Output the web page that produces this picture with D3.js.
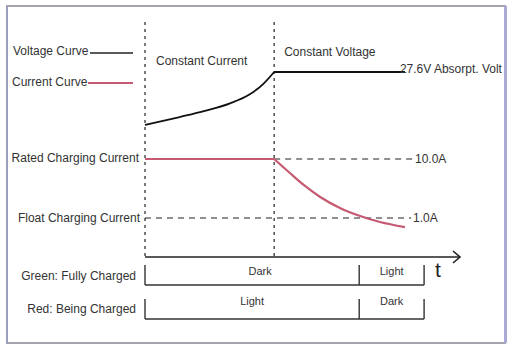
<!DOCTYPE html>
<html><head><meta charset="utf-8">
<script src="https://cdn.jsdelivr.net/npm/d3@7"></script>
<style>
html,body{margin:0;padding:0;background:#fff;}
svg{display:block;}
text{font-family:"Liberation Sans",Arial,sans-serif;}
</style></head>
<body>
<script>
// ---- data ----
const phaseBounds = [0, 41];                 // start of CC, start of CV (time units 0..100)
const phaseLabels = ["Constant Current", "Constant Voltage"];
const voltageT = [0, 11, 19, 27, 33, 37.5, 41, 82.5];
const voltageV = [24.0, 24.54, 24.96, 25.47, 26.05, 26.78, 27.6, 27.6];
const currentT = [0, 41, 46, 50.8, 55.6, 61.9, 68.3, 74.6, 82.5];
const currentA = [10, 10, 5.79, 3.49, 2.27, 1.48, 1.08, 0.855, 0.7];
const refCurrents = [10.0, 1.0];
const refCurrentLabels = ["10.0A", "1.0A"];
const refCurrentNames = ["Rated Charging Current", "Float Charging Current"];
const absorptVoltage = 27.6;
const absorptLabel = "27.6V Absorpt. Volt";
const legendNames = ["Voltage Curve", "Current Curve"];
const ledRows = ["Green: Fully Charged", "Red: Being Charged"];
const ledBreaks = [0, 68, 88.6];
const ledStates = [["Dark", "Light"], ["Light", "Dark"]];

const W = 519, H = 345;
const svg = d3.select("body").append("svg").attr("width", W).attr("height", H);

// frame
svg.append("rect").attr("x",7).attr("y",6).attr("width",498).attr("height",337)
  .attr("fill","#fff").attr("stroke","#a4a4ac").attr("stroke-width",2);
svg.append("line").attr("x1",7).attr("x2",7).attr("y1",6).attr("y2",343).attr("stroke","#9aa0bc").attr("stroke-width",2);
svg.append("line").attr("x1",505.5).attr("x2",505.5).attr("y1",6).attr("y2",343).attr("stroke","#aaaad6").attr("stroke-width",3);

const x = d3.scaleLinear().domain([0,100]).range([145,460]);
const yV = d3.scaleLinear().domain([24.0, 27.6]).range([125, 72]);
const yI = d3.scaleLog().domain([1, 10]).range([218, 159]);
const plotTop = 22, axisY = 257;
const pink = "#c65a72";

// phase dashed vertical lines
phaseBounds.forEach((t,i)=>{
  svg.append("line").attr("x1",x(t)).attr("x2",x(t)).attr("y1",plotTop).attr("y2",axisY)
    .attr("stroke","#333").attr("stroke-width",1.3).attr("stroke-dasharray","3,4");
});
svg.append("text").attr("x",x(phaseBounds[0])+11).attr("y",65).attr("font-size",12).attr("fill","#333").text(phaseLabels[0]);
svg.append("text").attr("x",x(phaseBounds[1])+10).attr("y",56).attr("font-size",12).attr("fill","#333").text(phaseLabels[1]);

// reference current dashed lines
const refStart = [x(phaseBounds[1]), x(phaseBounds[0])];
refCurrents.forEach((a,i)=>{
  const lx2 = i===0 ? 413 : 411;
  svg.append("line").attr("x1",refStart[i]).attr("x2",lx2).attr("y1",yI(a)).attr("y2",yI(a))
    .attr("stroke","#222").attr("stroke-width",1.2).attr("stroke-dasharray","6,5");
  svg.append("text").attr("x",lx2+2).attr("y",yI(a)+4).attr("font-size",12)
    .attr("font-family","'Liberation Serif','Times New Roman',serif").attr("fill","#333").text(refCurrentLabels[i]);
  svg.append("text").attr("x",i===0?139:140).attr("y",yI(a)+(i===0?3:4)).attr("text-anchor","end")
    .attr("font-size",12).attr("fill","#333").text(refCurrentNames[i]);
});

// voltage curve: rising (CC phase) + flat (CV phase)
const vData = voltageT.map((t,i)=>[t,voltageV[i]]);
const splitV = voltageT.indexOf(phaseBounds[1]);
const vLine = d3.line().x(d=>x(d[0])).y(d=>yV(d[1]));
svg.append("path").datum(vData.slice(0, splitV+1))
  .attr("d", vLine.curve(d3.curveMonotoneX))
  .attr("fill","none").attr("stroke","#111").attr("stroke-width",1.8);
svg.append("path").datum(vData.slice(splitV))
  .attr("d", vLine.curve(d3.curveLinear))
  .attr("fill","none").attr("stroke","#111").attr("stroke-width",1.8);
svg.append("text").attr("x",x(82.5)-5).attr("y",yV(absorptVoltage)+1).attr("font-size",12).attr("fill","#333").text(absorptLabel);

// current curve: flat (CC phase) + decay (CV phase)
const iData = currentT.map((t,i)=>[t,currentA[i]]);
const splitI = currentT.indexOf(phaseBounds[1]);
const iLine = d3.line().x(d=>x(d[0])).y(d=>yI(d[1]));
svg.append("path").datum(iData.slice(0, splitI+1))
  .attr("d", iLine.curve(d3.curveLinear))
  .attr("fill","none").attr("stroke",pink).attr("stroke-width",2.2);
svg.append("path").datum(iData.slice(splitI))
  .attr("d", iLine.curve(d3.curveMonotoneX))
  .attr("fill","none").attr("stroke",pink).attr("stroke-width",2.2).attr("stroke-linejoin","round");

// legend
svg.append("text").attr("x",13).attr("y",55).attr("font-size",12).attr("fill","#333").text(legendNames[0]);
svg.append("line").attr("x1",90).attr("x2",133).attr("y1",53).attr("y2",53).attr("stroke","#222").attr("stroke-width",1.5);
svg.append("text").attr("x",12).attr("y",86).attr("font-size",12).attr("fill","#333").text(legendNames[1]);
svg.append("line").attr("x1",88).attr("x2",133).attr("y1",83).attr("y2",83).attr("stroke",pink).attr("stroke-width",2.2);

// time axis
svg.append("line").attr("x1",x(0)).attr("x2",x(100)).attr("y1",axisY).attr("y2",axisY)
  .attr("stroke","#222").attr("stroke-width",1.6);
svg.append("path").attr("d",`M${x(100)-7},${axisY-6}L${x(100)},${axisY}L${x(100)-7},${axisY+6}`)
  .attr("fill","none").attr("stroke","#222").attr("stroke-width",1.6);
svg.append("text").attr("x",435).attr("y",277).attr("font-size",21).attr("fill","#222").text("t");

// LED brackets
const rowY = [285, 319];
ledRows.forEach((name,r)=>{
  const yb = rowY[r];
  svg.append("text").attr("x",136).attr("y",r===0?280:313).attr("text-anchor","end")
    .attr("font-size",12).attr("fill","#333").text(name);
  svg.append("line").attr("x1",x(ledBreaks[0])).attr("x2",x(ledBreaks[2])).attr("y1",yb).attr("y2",yb)
    .attr("stroke","#333").attr("stroke-width",1.4);
  ledBreaks.forEach(t=>{
    svg.append("line").attr("x1",x(t)).attr("x2",x(t)).attr("y1",yb-20).attr("y2",yb)
      .attr("stroke","#333").attr("stroke-width",1.4);
  });
  ledStates[r].forEach((s,j)=>{
    const cx = (x(ledBreaks[j])+x(ledBreaks[j+1]))/2;
    const offs = j===0 ? (r===0 ? 8 : 0) : 0;
    svg.append("text").attr("x",cx+offs).attr("y",yb-(r===0?10:14)).attr("text-anchor","middle")
      .attr("font-size",11).attr("fill","#333").text(s);
  });
});
</script>
</body></html>
